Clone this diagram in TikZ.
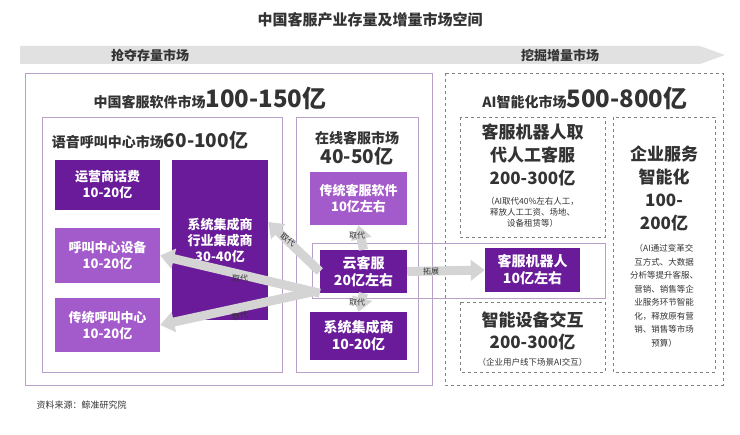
\documentclass[tikz,border=0pt]{standalone}
\usepackage{fontspec}
\setmainfont{Noto Sans CJK SC}
\usetikzlibrary{arrows.meta}
\definecolor{darkpurple}{HTML}{6A1B9A}
\definecolor{lightpurple}{HTML}{A35BCB}
\definecolor{framepurple}{HTML}{B9A0C8}
\definecolor{arrowgray}{HTML}{D4D4D4}
\definecolor{textgray}{HTML}{333333}
\newcommand{\fs}[2]{\fontsize{#1}{#2}\selectfont}
\begin{document}
\begin{tikzpicture}[
    x = 1pt,
    y = -1pt,
    >=Triangle,
    darkbox/.style = {fill=darkpurple, text=white, font=\bfseries\fs{13}{16}, align=center, inner sep=0pt},
    lightbox/.style = {fill=lightpurple, text=white, font=\bfseries\fs{13}{16}, align=center, inner sep=0pt},
    frame/.style = {draw=framepurple, line width=0.8pt},
    dashframe/.style = {draw=gray, dashed, line width=0.6pt},
    bigarrow/.style = {draw=arrowgray, line width=9pt, -{Triangle[length=14pt,width=20pt]}},
    arrowlabel/.style = {font=\fs{8}{9}, text=textgray},
    heading/.style = {font=\bfseries\fs{13}{16}, text=textgray, align=center},
    note/.style = {font=\fs{8.5}{11}, text=textgray, align=center},
]
\useasboundingbox (0,0) rectangle (740,435);

% title and direction band
\node[font=\bfseries\fs{15}{18}, text=textgray] (title) at (370,20) {中国客服产业存量及增量市场空间};
\fill[arrowgray!70] (20,46) -- (700,46) -- (725,55) -- (700,64) -- (20,64) -- cycle;
\node[heading] (stock) at (150,55) {抢夺存量市场};
\node[heading] (growth) at (560,55) {挖掘增量市场};

% outer frames
\draw[frame] (25,73) rectangle (432,385);
\draw[dashframe] (445,73) rectangle (723,385);
\node[text=textgray, font=\bfseries] (softmkt) at (210,98)
    {\fs{14}{16}中国客服软件市场\fs{24}{26}100-150亿};
\node[text=textgray, font=\bfseries] (aimkt) at (585,98)
    {\fs{14}{16}AI智能化市场\fs{24}{26}500-800亿};

% voice call centre market
\draw[frame] (42,117) rectangle (282,372);
\node[text=textgray, font=\bfseries] (voicemkt) at (150,140)
    {\fs{14}{16}语音呼叫中心市场\fs{19}{20}60-100亿};
\node[darkbox, minimum width=105pt, minimum height=50pt] (carrier) at (107.5,185) {运营商话费\\10-20亿};
\node[lightbox, minimum width=105pt, minimum height=55pt] (device) at (107.5,255.5) {呼叫中心设备\\10-20亿};
\node[lightbox, minimum width=105pt, minimum height=54pt] (oldcall) at (107.5,325) {传统呼叫中心\\10-20亿};
\node[darkbox, minimum width=96pt, minimum height=160pt] (integr) at (220,240) {系统集成商\\行业集成商\\30-40亿};

% online customer service market
\draw[frame] (296,117) rectangle (418,372);
\node[heading, font=\bfseries\fs{14}{20}] (onlinemkt) at (357,148) {在线客服市场\\{\fs{19}{20}40-50亿}};
\node[lightbox, minimum width=97pt, minimum height=53pt] (oldsoft) at (358.5,198.5) {传统客服软件\\10亿左右};
\draw[frame, line width=0.6pt] (312,243) rectangle (605,298);
\node[darkbox, minimum width=87pt, minimum height=43pt, font=\bfseries\fs{14}{17}] (cloud) at (363.5,271.5) {云客服\\20亿左右};
\node[darkbox, minimum width=97pt, minimum height=48pt, font=\bfseries\fs{14}{17}] (sysint) at (358.5,336) {系统集成商\\10-20亿};

% AI market
\draw[dashframe] (460,117) rectangle (605,237);
\node[heading, font=\bfseries\fs{17}{23}] (robotrep) at (532.5,155) {客服机器人取\\代人工客服\\200-300亿};
\node[note] (robotnote) at (532.5,212) {（AI取代40\%左右人工，\\释放人工工资、场地、\\设备租赁等）};
\node[darkbox, minimum width=95pt, minimum height=44pt, font=\bfseries\fs{14}{17}] (robot) at (532.5,270) {客服机器人\\10亿左右};
\draw[dashframe] (460,302) rectangle (605,372);
\node[heading, font=\bfseries\fs{17}{22}] (smartdev) at (532.5,331) {智能设备交互\\200-300亿};
\node[note] (smartnote) at (532.5,362) {（企业用户线下场景AI交互）};
\draw[dashframe] (613,117) rectangle (715,372);
\node[heading, font=\bfseries\fs{17}{23}] (entsvc) at (664,188) {企业服务\\智能化\\100-\\200亿};
\node[note, font=\fs{8.5}{13.5}] (entnote) at (664,296) {（AI通过变革交\\互方式、大数据\\分析等提升客服、\\营销、销售等企\\业服务环节智能\\化，释放原有营\\销、销售等市场\\预算）};

% arrows from cloud service
\draw[bigarrow] (cloud.north) -- (oldsoft.south);
\draw[bigarrow] (cloud.south) -- (sysint.north);
\draw[bigarrow] (cloud.west) -- (integr.east |- 0,222);
\draw[bigarrow] (cloud.south west) -- (device.east);
\draw[bigarrow] (312,292) -- (oldcall.east);
\draw[bigarrow] (cloud.east) -- (robot.west);
\node[arrowlabel] (lbl1) at (357,236) {取代};
\node[arrowlabel] (lbl2) at (357,303) {取代};
\node[arrowlabel, rotate=-35] (lbl3) at (288,240) {取代};
\node[arrowlabel] (lbl4) at (240,279) {取代};
\node[arrowlabel, rotate=8] (lbl5) at (240,316) {取代};
\node[arrowlabel] (lbl6) at (431,271) {拓展};

% source
\node[font=\fs{9}{11}, text=textgray, anchor=west] (source) at (33,405) {资料来源：鲸准研究院};
\end{tikzpicture}
\end{document}
